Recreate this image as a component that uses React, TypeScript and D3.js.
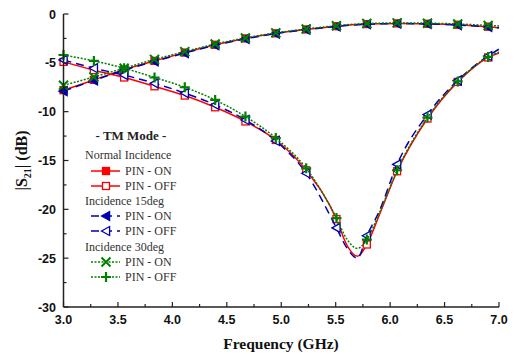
import React from "react";
import * as d3 from "d3";

const freqs = [3.0, 3.279, 3.557, 3.836, 4.114, 4.393, 4.671, 4.95, 5.229, 5.507, 5.6, 5.7, 5.786, 5.9, 6.064, 6.343, 6.621, 6.9, 7.0];
const markerFreqs = [3.0, 3.279, 3.557, 3.836, 4.114, 4.393, 4.671, 4.95, 5.229, 5.507, 5.786, 6.064, 6.343, 6.621, 6.9];

const normalOn = [-7.8, -6.75, -5.7, -4.8, -3.95, -3.15, -2.5, -1.98, -1.58, -1.25, -1.16, -1.08, -1.03, -0.99, -0.96, -1.0, -1.1, -1.3, -1.4];
const normalOff = [-4.9, -5.75, -6.5, -7.4, -8.35, -9.55, -11.0, -12.9, -16.0, -21.0, -23.6, -24.8, -23.6, -20.6, -16.1, -10.7, -6.95, -4.45, -4.0];
const inc15On = [-7.9, -6.8, -5.75, -4.85, -4.0, -3.2, -2.55, -2.0, -1.6, -1.28, -1.18, -1.1, -1.05, -1.01, -0.98, -1.02, -1.13, -1.33, -1.42];
const inc15Off = [-4.7, -5.55, -6.25, -7.1, -8.1, -9.3, -10.85, -13.0, -16.3, -21.9, -23.9, -25.0, -22.7, -20.2, -15.4, -10.3, -6.8, -4.3, -3.6];
const inc30On = [-7.3, -6.45, -5.55, -4.65, -3.85, -3.08, -2.45, -1.93, -1.53, -1.2, -1.1, -1.03, -0.98, -0.94, -0.91, -0.94, -1.02, -1.17, -1.22];
const inc30Off = [-4.2, -4.8, -5.55, -6.5, -7.5, -8.8, -10.5, -12.7, -15.8, -20.9, -23.0, -24.0, -23.1, -20.4, -16.0, -10.6, -6.9, -4.4, -3.9];

const xTicks = [3.0, 3.5, 4.0, 4.5, 5.0, 5.5, 6.0, 6.5, 7.0];
const yTicks = [0, -5, -10, -15, -20, -25, -30];

type SeriesDef = { values: number[]; color: string; dash: string; marker: string; filled: boolean };

const series: SeriesDef[] = [
  { values: normalOn, color: "#ff0000", dash: "", marker: "square", filled: true },
  { values: normalOff, color: "#ff0000", dash: "", marker: "square", filled: false },
  { values: inc15On, color: "#0000b0", dash: "8,5", marker: "triangle", filled: true },
  { values: inc15Off, color: "#0000b0", dash: "8,5", marker: "triangle", filled: false },
  { values: inc30On, color: "#008000", dash: "2,1.5", marker: "x", filled: true },
  { values: inc30Off, color: "#008000", dash: "2,1.5", marker: "plus", filled: true },
];

const legendGroups = ["Normal Incidence", "Incidence 15deg", "Incidence 30deg"];
const legendItems = ["PIN - ON", "PIN - OFF"];

function Marker({ kind, x, y, color, filled }: { kind: string; x: number; y: number; color: string; filled: boolean }) {
  if (kind === "square") {
    return <rect x={x - 3.5} y={y - 3.5} width={7} height={7} fill={filled ? color : "#fff"} stroke={color} strokeWidth={1.3} />;
  }
  if (kind === "triangle") {
    const s = 4.5;
    return (
      <path
        d={`M${x - s},${y} L${x + s * 0.8},${y - s} L${x + s * 0.8},${y + s} Z`}
        fill={filled ? color : "#fff"}
        stroke={color}
        strokeWidth={1.3}
      />
    );
  }
  if (kind === "x") {
    const s = 4.5;
    return <path d={`M${x - s},${y - s} L${x + s},${y + s} M${x - s},${y + s} L${x + s},${y - s}`} stroke={color} strokeWidth={2} />;
  }
  const s = 5;
  return <path d={`M${x - s},${y} L${x + s},${y} M${x},${y - s} L${x},${y + s}`} stroke={color} strokeWidth={2.2} />;
}

export default function App() {
  const W = 515;
  const H = 354;
  const x = d3.scaleLinear().domain([3, 7]).range([63.5, 499]);
  const y = d3.scaleLinear().domain([-30, 0]).range([307, 14]);
  const line = d3
    .line<number>()
    .x((_, i) => x(freqs[i]))
    .y((v) => y(v))
    .curve(d3.curveMonotoneX);

  const xMinor = d3.range(3, 7.001, 0.25);
  const yMinor = d3.range(-30, 0.001, 2.5);
  const tickFont = "'Liberation Sans', Arial, sans-serif";
  const serif = "'Liberation Serif', 'Times New Roman', serif";

  const legendX = 85;
  const rowY = [155, 171, 186, 201, 216, 231, 247, 262, 277];

  return (
    <svg width={W} height={H} style={{ position: "absolute", left: 0, top: 0, background: "#fff" }}>
      {/* curves */}
      {series.map((s, si) => (
        <g key={si}>
          <path d={line(s.values) || ""} fill="none" stroke={s.color} strokeWidth={1.5} strokeDasharray={s.dash} />
          {freqs.map((f, i) =>
            markerFreqs.includes(f) ? (
              <Marker key={i} kind={s.marker} x={x(f)} y={y(s.values[i])} color={s.color} filled={s.filled} />
            ) : null
          )}
        </g>
      ))}

      {/* axes */}
      <line x1={x(3)} x2={x(7)} y1={y(-30)} y2={y(-30)} stroke="#222" strokeWidth={1.5} />
      <line x1={x(3)} x2={x(3)} y1={y(-30)} y2={y(0)} stroke="#222" strokeWidth={1.5} />
      {xMinor.map((t, i) => {
        const major = Math.abs(t * 2 - Math.round(t * 2)) < 1e-6;
        return <line key={i} x1={x(t)} x2={x(t)} y1={y(-30)} y2={y(-30) - (major ? 5 : 3)} stroke="#222" strokeWidth={1.2} />;
      })}
      {yMinor.map((t, i) => {
        const major = Math.abs(t / 5 - Math.round(t / 5)) < 1e-6;
        return <line key={i} x1={x(3)} x2={x(3) + (major ? 5 : 3)} y1={y(t)} y2={y(t)} stroke="#222" strokeWidth={1.2} />;
      })}
      {xTicks.map((t) => (
        <text key={t} x={x(t)} y={324} textAnchor="middle" fontFamily={tickFont} fontWeight="bold" fontSize={12.5} fill="#111">
          {t.toFixed(1)}
        </text>
      ))}
      {yTicks.map((t) => (
        <text key={t} x={56} y={y(t) + 4.5} textAnchor="end" fontFamily={tickFont} fontWeight="bold" fontSize={12.5} fill="#111">
          {t}
        </text>
      ))}

      {/* axis labels */}
      <text x={281} y={349} textAnchor="middle" fontFamily={serif} fontWeight="bold" fontSize={15.5} fill="#111">
        Frequency (GHz)
      </text>
      <text
        transform={`translate(27,${y(-15)}) rotate(-90)`}
        textAnchor="middle"
        fontFamily={serif}
        fontWeight="bold"
        fontSize={16}
        fill="#111"
      >
        |S<tspan fontSize={10} dy={4}>21</tspan>
        <tspan dy={-4}>| (dB)</tspan>
      </text>

      {/* legend */}
      <text x={131} y={140} textAnchor="middle" fontFamily={serif} fontWeight="bold" fontSize={13} fill="#222">
        - TM Mode -
      </text>
      {legendGroups.map((g, gi) => (
        <g key={g}>
          <text x={legendX} y={rowY[gi * 3] + 4} fontFamily={serif} fontSize={12} fill="#333">
            {g}
          </text>
          {legendItems.map((it, ii) => {
            const s = series[gi * 2 + ii];
            const yy = rowY[gi * 3 + ii + 1];
            return (
              <g key={it}>
                <line x1={91} x2={120} y1={yy} y2={yy} stroke={s.color} strokeWidth={1.5} strokeDasharray={s.dash} />
                <Marker kind={s.marker} x={106} y={yy} color={s.color} filled={s.filled} />
                <text x={125} y={yy + 4} fontFamily={serif} fontSize={12} fill="#333">
                  {it}
                </text>
              </g>
            );
          })}
        </g>
      ))}
    </svg>
  );
}
